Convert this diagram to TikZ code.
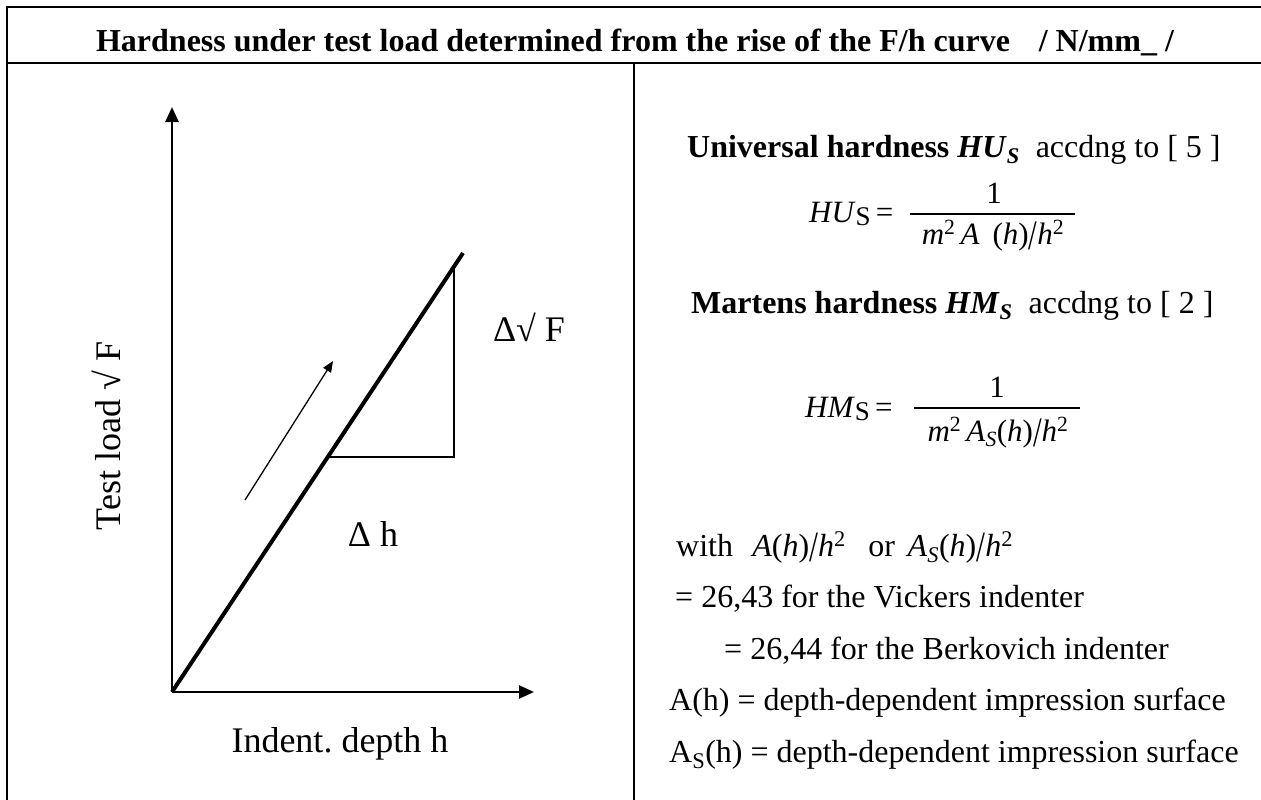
\documentclass[tikz,border=0pt]{standalone}
\usepackage{fontspec}
\setmainfont{Liberation Serif}
\usetikzlibrary{arrows.meta}
\frenchspacing
\newcommand{\tallsl}{\raisebox{-0.18em}{\scalebox{1}[1.35]{/}}}
\begin{document}
\begin{tikzpicture}[x=1pt,y=-1pt,
  frame/.style={line width=2.7pt},
  ttl/.style={font=\fontsize{32}{38}\selectfont\bfseries, inner sep=0pt},
  lbl/.style={font=\fontsize{36}{43}\selectfont, inner sep=0pt},
  txt/.style={font=\fontsize{32}{38}\selectfont, inner sep=0pt},
  frm/.style={font=\fontsize{31}{37}\selectfont, inner sep=0pt},
  axis/.style={line width=2.6pt, -{Triangle[length=15pt,width=13pt]}},
  curve/.style={line width=4pt},
  thinln/.style={line width=1.5pt},
  dir/.style={line width=1.3pt, -{Triangle[length=11pt,width=9pt]}},
  bar/.style={line width=1.3pt}
]
\useasboundingbox (0,0) rectangle (1261,800);
\fill[white] (0,0) rectangle (1261,800);

% frame
\draw[frame] (1261,7) -- (7,7) -- (7,800);
\draw[line width=2.8pt] (7,63) -- (1261,63);
\draw[line width=2pt] (634,63) -- (634,800);

% title
\node[ttl, anchor=base] (title) at (635,52) {Hardness under test load determined from the rise of the F/h curve\hspace{0.9em}/ N/mm\_ /};

% left panel
\coordinate (O) at (172,692);
\coordinate (Ytip) at (172,107);
\coordinate (Xtip) at (534,692);
\coordinate (Dend) at (463,253);
\coordinate (Vtop) at (454,266);
\coordinate (Corner) at (454,457);
\coordinate (Hleft) at (328,457);
\coordinate (Astart) at (245,500);
\coordinate (Aend) at (333,361);
\draw[axis] (O) -- (Ytip);
\draw[axis] (O) -- (Xtip);
\draw[curve] (O) -- (Dend);
\draw[thinln] (Vtop) -- (Corner) -- (Hleft);
\draw[dir] (Astart) -- (Aend);

\node[lbl, rotate=90, anchor=base] (ylab) at (120,436) {Test load √ F};
\node[lbl, anchor=base] (dF) at (529,341) {Δ√ F};
\node[lbl, anchor=base] (dh) at (373,546) {Δ h};
\node[lbl, anchor=base] (xlab) at (340,752) {Indent. depth h};

% right panel
\node[txt, anchor=base west] (uni) at (687,157) {\textbf{Universal hardness \textit{HU}\textsubscript{\textit{S}}}\ \ accdng to [ 5 ]};
\node[frm, anchor=base west] (hulhs) at (809,222) {\textit{HU}\raisebox{-0.12em}{\fontsize{27}{30}\selectfont S}\,=};
\node[frm, anchor=base] (hunum) at (994,203) {1};
\draw[bar] (910,214) -- (1075,214);
\node[frm, anchor=base] (huden) at (993,244) {\textit{m}\textsuperscript{2}\,\textit{A}\ \,(\textit{h})\tallsl\textit{h}\textsuperscript{2}};

\node[txt, anchor=base west] (mar) at (691,313) {\textbf{Martens hardness \textit{HM}\textsubscript{\textit{S}}}\ \ accdng to [ 2 ]};
\node[frm, anchor=base west] (hmlhs) at (805,417) {\textit{HM}\raisebox{-0.12em}{\fontsize{27}{30}\selectfont S}\,=};
\node[frm, anchor=base] (hmnum) at (997,397) {1};
\draw[bar] (914,408) -- (1080,408);
\node[frm, anchor=base] (hmden) at (998,441) {\textit{m}\textsuperscript{2}\,\textit{A}\textsubscript{\textit{S}}(\textit{h})\tallsl\textit{h}\textsuperscript{2}};

\node[txt, anchor=base west] (with) at (676,556) {with\hspace{0.6em}\textit{A}(\textit{h})\tallsl\textit{h}\textsuperscript{2}\hspace{0.7em}or\hspace{0.4em}\textit{A}\textsubscript{\textit{S}}(\textit{h})\tallsl\textit{h}\textsuperscript{2}};
\node[txt, anchor=base west] (vick) at (675,607) {= 26,43 for the Vickers indenter};
\node[txt, anchor=base west] (berk) at (724,659) {= 26,44 for the Berkovich indenter};
\node[txt, anchor=base west] (ah) at (669,710) {A(h) = depth-dependent impression surface};
\node[txt, anchor=base west] (ash) at (669,762) {A\textsubscript{S}(h) = depth-dependent impression surface};
\end{tikzpicture}
\end{document}
